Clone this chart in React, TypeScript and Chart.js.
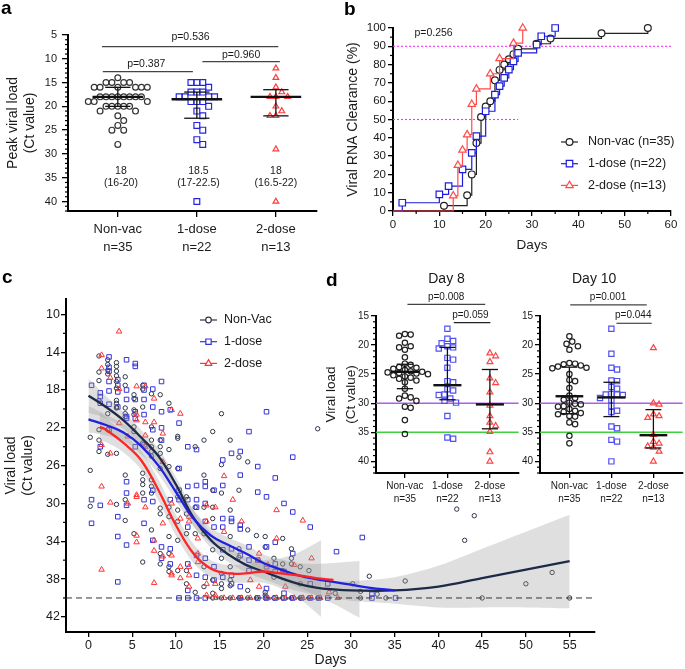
import React, { useEffect, useRef } from 'react';
import { Chart, registerables } from 'chart.js';

Chart.register(...registerables);

const FONT = "'Liberation Sans', Arial, Helvetica, sans-serif";
const INK = '#1a1a1a';
Chart.defaults.font.family = FONT;
Chart.defaults.color = INK;

// ================= Panel a : peak viral load =================
const groupNames = ['Non-vac', '1-dose', '2-dose'];
const groupCounts = ['n=35', 'n=22', 'n=13'];
const peakNonVac = [14, 15, 15, 15, 15, 16, 16, 16, 16, 16, 16, 18, 18, 18, 18, 18, 18, 18, 18, 19, 19, 19, 20, 20, 20, 20, 20, 21, 21, 22, 23, 24, 25, 25, 28];
const peakOneDose = [15, 15, 15, 16, 17, 17, 17, 18, 18, 18, 18, 19, 19, 19, 20, 21, 22, 24, 25, 27, 28, 40];
const peakTwoDose = [12, 14, 16, 17, 18, 18, 18, 20, 21, 22, 22, 29, 40];
const peakMedian = [18, 18.5, 18];
const peakQ1 = [16, 17, 16.5];
const peakQ3 = [20, 22.5, 22];
const peakMedianText = ['18', '18.5', '18'];
const peakRangeText = ['(16-20)', '(17-22.5)', '(16.5-22)'];
const peakPValues = ['p=0.536', 'p=0.387', 'p=0.960'];
const peakTicks = [5, 10, 15, 20, 25, 30, 35, 40];

// ================= Panel b : clearance curves =================
const kmDaysNonVac = [0, 11, 16, 17, 18, 19, 20, 21, 22, 23, 24, 25, 26, 27, 31, 34, 45, 55];
const kmPctNonVac = [0, 2.9, 8.6, 20, 37.1, 51.4, 57.1, 60, 71.4, 77.1, 80, 82.9, 85.7, 88.6, 91.4, 94.3, 97.1, 100];
const kmDaysOneDose = [0, 2, 10, 12, 15, 17, 18, 20, 22, 23, 24, 25, 26, 27, 31, 32, 35];
const kmPctOneDose = [0, 4.5, 9.1, 13.6, 22.7, 31.8, 40.9, 54.5, 63.6, 68.2, 72.7, 77.3, 81.8, 86.4, 90.9, 95.5, 100];
const kmDaysTwoDose = [0, 13, 14, 15, 16, 17, 18, 21, 23, 26, 28];
const kmPctTwoDose = [0, 8.3, 25, 33.3, 41.7, 58.3, 66.7, 75, 83.3, 91.7, 100];
const kmLegend = ['Non-vac (n=35)', '1-dose (n=22)', '2-dose (n=13)'];
const kmXTicks = [0, 10, 20, 30, 40, 50, 60];
const kmYTicks = [0, 10, 20, 30, 40, 50, 60, 70, 80, 90, 100];

// ================= Panel c : viral load over time =================
// Ct values per day (index = day since onset)
const ctNonVacByDay = [
  [23, 26.5, 30.3],
  [14.4, 16.1, 17, 19.1, 22.2, 23.3, 24.5],
  [14.8, 15.3, 15.9, 16.3, 20.5, 22.2, 24.8],
  [15.1, 15.5, 16, 16.5, 17.1, 17.8, 19.1, 19.4, 19.8, 19.9, 24.7, 30.1],
  [16.6, 17.5, 19.9, 20.5, 20.8, 27, 29.6, 31.8],
  [18.5, 18.9, 20.1, 20.6, 21.9, 22.4, 33.2],
  [17.5, 17.9, 19.8, 23.6, 26.8, 27.5, 28, 28.9, 36.2],
  [18.4, 21.9, 23.3, 24, 24.5, 25, 27.5, 28.2, 28.9, 32.8],
  [18.5, 23.3, 24, 24.7, 26.3, 30.5, 31.1, 35.3, 36.4],
  [19.4, 24.3, 26.1, 30.4, 31.4, 33.5, 35.3, 36.7, 37.2],
  [22.9, 23.1, 26.3, 29.3, 30.7, 31.9, 33.9, 37.1],
  [29.3, 31.1, 33.2, 37.1, 38.5],
  [24, 30.4, 33.2, 39.4],
  [23.3, 27, 30.4, 33.2, 36.7, 38.8],
  [22.4, 28.6, 30.4, 31.6, 34.9, 38.1, 39.5, 40],
  [20.5, 25.9, 28.9, 35.8, 37.4, 38.5, 39, 40],
  [23.3, 30.7, 33.5, 36.7, 38.1, 38.7, 40],
  [25.1, 28.6, 34.8, 35.7, 40],
  [25.6, 32.8, 39.2, 40],
  [33.4, 40],
  [33.5, 34.6, 39.4, 39.7, 40],
  [35.8, 37.8, 40],
  [33.7, 36.4, 37.1, 40],
  [34.8, 35.8, 36.4, 40],
  [36.7, 38.5, 40],
  [37.1, 40],
  [22.1, 40],
  [],
  [39.5],
];
const ctNonVacLate = [[30.2, 38.5], [31.1, 39.3], [31.1, 40], [32.1, 37.7], [33, 39.6], [34, 40], [36.2, 38.2], [42.1, 30.6], [43, 33.9], [44.1, 31.3], [45, 40], [50, 38.5], [53, 37.3], [55, 40]];
const ctOneDoseByDay = [
  [17.5, 29.6, 32.1],
  [18.3, 18.7, 19.4, 24, 30.2],
  [14.5, 15.6, 16, 17.1, 18.1, 19.5, 22.2],
  [16.9, 17.5, 18.2, 19.8, 31.4, 33.5, 38.3],
  [14.8, 18, 19, 20.8, 21, 27.7, 28.9, 30.2, 34.4],
  [15.2, 15.5, 19, 20.3, 21, 24],
  [17.5, 18, 19, 20.6, 23.8, 29.6, 32.1],
  [17.9, 19.8, 22.2, 28.6, 29.8, 33.9],
  [17.1, 20.3, 22, 23.3, 34.6, 35.8],
  [20.1, 29.6, 34.8, 36.4],
  [21.5, 26.3, 28.6, 29.6, 40],
  [24, 28.2, 29.6, 32.5, 36.4, 39.2, 40],
  [24.3, 28.1, 29.6, 30.4, 35.5, 37.6, 40],
  [27.7, 28.2, 30, 31.9, 35.8, 37.8, 40],
  [28.6, 32.5, 36.7, 38.1],
  [25.4, 28.1, 31.6, 32.5, 34.9, 37.8],
  [24.7, 31.6, 31.9, 34.8, 37.6, 38.5],
  [24.5, 27, 32.3, 32.7, 35.5, 38.8, 40],
  [22.4, 34.6, 36, 37.1],
  [26.1, 28.8, 36, 40],
  [20.3, 29.3, 34.6, 36.7, 39, 40],
  [27.3, 34.1, 36.4, 37.2, 40],
  [30, 37.2, 39.5, 40],
  [25.1, 30.9, 35.3, 40],
  [40],
  [32.5, 38.5, 40],
  [40],
  [38.5, 40],
  [35.1],
];
const ctOneDoseLate = [[31.3, 33.6], [32.4, 39.6], [32.4, 40], [35.1, 40]];
const ctTwoDoseByDay = [
  [],
  [14.3, 15.7, 23.8, 28.2, 37],
  [16.7, 24.7, 29.9],
  [11.8, 17.9, 21.5],
  [22.9, 30],
  [17.6, 20.6, 21.2, 29.1, 29.3, 33.4, 34.1],
  [17.6, 21.4, 22.8, 24, 30.4],
  [18.9, 21.4, 33.9, 35, 38.4],
  [22.6, 25.6, 32.1, 35.6],
  [20.1, 30, 35.5, 37.4, 37.6],
  [20.5, 31.6, 36.7, 37.9],
  [31.4, 31.9, 36.7, 37.6, 38.8],
  [33.7, 35.3, 36.2],
  [30.2, 31.9, 38.5, 39.7],
  [30.4, 38.5, 39.7, 40],
  [27.1, 33, 40],
  [29.6, 40],
  [31.9, 40],
  [38.1, 40],
  [35.3, 36, 38.8],
  [36.5, 40],
  [30.7, 33.7, 40],
  [38.8, 40],
  [36.5, 40],
  [31.8, 40],
  [35.8, 40],
  [40],
  [39.4],
  [40],
];
// fitted curves and 95% bands
const fitDaysNonVac = [0, 2, 4, 6, 8, 10, 12, 14, 16, 18, 20, 22, 24, 26, 28, 30, 35, 40, 45, 50, 55];
const fitNonVac = [18.6, 19.8, 21.2, 23.0, 25.0, 28.0, 31.5, 33.9, 35.4, 36.5, 37.2, 37.9, 38.5, 38.9, 39.1, 39.2, 39.2, 38.8, 37.9, 37.0, 36.1];
const bandNonVacUpper = [16.8, 18.6, 20.3, 22.2, 24.2, 27.2, 30.7, 33.1, 34.6, 35.7, 36.4, 37.1, 37.7, 38.1, 38.2, 38.2, 37.8, 36.6, 34.8, 33.0, 31.2];
const bandNonVacLower = [20.4, 21.0, 22.1, 23.8, 25.8, 28.8, 32.3, 34.7, 36.2, 37.3, 38.0, 38.7, 39.3, 39.7, 40.0, 40.3, 40.6, 41.0, 41.0, 41.0, 41.1];
const fitDaysOneDose = [0, 2, 4, 6, 8, 10, 12, 14, 16, 18, 20, 22, 24, 26, 28, 30, 32, 35];
const fitOneDose = [21.1, 21.7, 22.5, 23.9, 26.0, 28.8, 31.6, 33.4, 34.4, 35.3, 36.3, 37.0, 37.6, 38.0, 38.3, 38.6, 38.9, 39.2];
const bandDaysOneDose = [0, 2, 4, 6, 8, 10, 12, 14, 16, 18, 20, 22, 24, 26, 28, 31];
const bandOneDoseUpper = [19.7, 20.6, 21.6, 23.0, 25.1, 27.9, 30.7, 32.6, 33.6, 34.4, 35.4, 35.9, 36.3, 36.4, 36.3, 36.1];
const bandOneDoseLower = [22.5, 22.8, 23.4, 24.8, 26.9, 29.7, 32.5, 34.2, 35.2, 36.2, 37.2, 38.1, 38.9, 39.7, 40.6, 42.1];
const fitDaysTwoDose = [1.3, 2, 4, 6, 8, 10, 12, 14, 16, 18, 20, 22, 24, 26, 28];
const fitTwoDose = [21.9, 22.2, 23.6, 25.4, 28.6, 32.3, 35.3, 36.9, 37.4, 37.4, 37.2, 37.4, 37.6, 37.9, 38.1];
const bandDaysTwoDose = [1.3, 2, 4, 6, 8, 10, 12, 14, 16, 18, 20, 22, 24, 26.6];
const bandTwoDoseUpper = [20.4, 20.9, 22.6, 24.4, 27.5, 31.2, 34.3, 36.0, 36.5, 36.4, 36.0, 35.8, 35.2, 33.9];
const bandTwoDoseLower = [23.4, 23.5, 24.6, 26.4, 29.7, 33.4, 36.3, 37.8, 38.3, 38.4, 38.4, 39.0, 40.0, 42.0];
const cLegend = ['Non-Vac', '1-dose', '2-dose'];
const cXTicks = [0, 5, 10, 15, 20, 25, 30, 35, 40, 45, 50, 55];
const cYTicks = [10, 14, 18, 22, 26, 30, 34, 38, 42];
const detectionLimit = 40;

// ================= Panel d : Day 8 / Day 10 =================
const d8NonVac = [18.1, 18.2, 18.4, 19.6, 20.2, 20.4, 20.8, 22.1, 23.2, 23.4, 23.8, 23.9, 24.1, 24.3, 24.5, 24.6, 24.7, 24.8, 24.9, 25.0, 25.2, 25.4, 25.6, 25.8, 26.1, 26.4, 27.5, 28.7, 29.0, 29.2, 29.6, 30.6, 30.8, 32.9, 35.3];
const d8OneDose = [17.2, 18.9, 19.3, 19.7, 20.2, 20.4, 20.6, 22.2, 22.5, 23.9, 26.2, 26.4, 27.6, 27.8, 28.5, 28.6, 29.2, 29.6, 29.9, 32.2, 35.9, 36.1];
const d8TwoDose = [21.4, 21.9, 22.9, 25.7, 26.5, 28.1, 30.4, 32.2, 33.3, 33.9, 34.9, 38.4, 40.0];
const d8Median = [24.6, 26.9, 30.2];
const d8Q1 = [23.3, 20.4, 24.2];
const d8Q3 = [27.5, 29.4, 34.4];
const d8PValues = ['p=0.008', 'p=0.059'];
const d10NonVac = [18.5, 19.4, 19.8, 20.2, 20.8, 23.1, 23.2, 23.3, 23.5, 23.7, 23.9, 24.0, 25.0, 26.0, 26.2, 27.4, 28.7, 29.1, 29.4, 29.9, 30.1, 30.2, 30.5, 30.6, 31.0, 31.3, 31.5, 31.7, 31.9, 32.2, 32.3, 33.3, 33.6, 35.6, 36.9];
const d10OneDose = [17.2, 21.5, 23.9, 24.2, 26.1, 26.2, 27.2, 27.5, 28.4, 28.5, 28.5, 28.6, 29.1, 29.5, 30.5, 31.3, 31.5, 34.0, 34.3, 36.3, 36.6, 40.0];
const d10TwoDose = [20.5, 30.0, 30.2, 31.9, 32.2, 32.5, 35.4, 36.6, 36.9, 37.4, 37.6, 38.3, 40.0];
const d10Median = [28.8, 29.0, 35.5];
const d10Q1 = [23.8, 26.4, 31.1];
const d10Q3 = [31.8, 32.3, 37.7];
const d10PValues = ['p=0.001', 'p=0.044'];
const dTicks = [15, 20, 25, 30, 35, 40];
const dThresholds = [30, 35];

// ================= helpers =================
const STYLES = ['circle', 'rect', 'triangle'];

function drawMarker(ctx: any, style: string, x: number, y: number, r: number, color: string, lw = 1.2) {
  ctx.save();
  ctx.beginPath();
  if (style === 'circle') ctx.arc(x, y, r, 0, Math.PI * 2);
  else if (style === 'rect') {
    const s = r * Math.SQRT1_2;
    ctx.rect(x - s, y - s, 2 * s, 2 * s);
  } else {
    ctx.moveTo(x, y - r);
    ctx.lineTo(x + r * Math.sin((2 * Math.PI) / 3), y - r * Math.cos((2 * Math.PI) / 3));
    ctx.lineTo(x + r * Math.sin((4 * Math.PI) / 3), y - r * Math.cos((4 * Math.PI) / 3));
    ctx.closePath();
  }
  ctx.fillStyle = '#fff';
  ctx.fill();
  ctx.strokeStyle = color;
  ctx.lineWidth = lw;
  ctx.stroke();
  ctx.restore();
}

function swarm(vals: number[], pxY: number, pxX: number, diam: number): number[] {
  const idx = vals.map((_, i) => i).sort((a, b) => vals[a] - vals[b]);
  const placed: number[][] = [];
  const out = vals.map(() => 0);
  for (const i of idx) {
    const y = vals[i] * pxY;
    let chosen = 0;
    for (let k = 0; k < 80; k++) {
      const step = Math.ceil(k / 2) * diam * 0.5;
      const cand = k % 2 === 1 ? step : -step;
      if (placed.every(([px, py]) => (px - cand) ** 2 + (py - y) ** 2 >= diam * diam * 0.95)) {
        chosen = cand;
        break;
      }
    }
    placed.push([chosen, y]);
    out[i] = chosen / pxX;
  }
  return out;
}

function makeAnnot(lines: any[], texts: any[]) {
  return {
    id: 'annot',
    afterDatasetsDraw(chart: any) {
      const ctx = chart.ctx;
      const xs = chart.scales.x;
      const ys = chart.scales.y;
      ctx.save();
      for (const l of lines) {
        ctx.beginPath();
        ctx.strokeStyle = l.color || '#333';
        ctx.lineWidth = l.width || 1.2;
        ctx.setLineDash(l.dash || []);
        ctx.moveTo(xs.getPixelForValue(l.x1), ys.getPixelForValue(l.y1));
        ctx.lineTo(xs.getPixelForValue(l.x2), ys.getPixelForValue(l.y2 ?? l.y1));
        ctx.stroke();
      }
      ctx.setLineDash([]);
      for (const t of texts) {
        ctx.font = `${t.size || 10}px ${FONT}`;
        ctx.fillStyle = t.color || INK;
        ctx.textAlign = t.align || 'center';
        ctx.textBaseline = 'middle';
        ctx.fillText(t.text, xs.getPixelForValue(t.x), ys.getPixelForValue(t.y));
      }
      ctx.restore();
    },
  };
}

function makeMinorTicks(spec: any) {
  return {
    id: 'minorTicks',
    afterDraw(chart: any) {
      const ctx = chart.ctx;
      const area = chart.chartArea;
      ctx.save();
      ctx.strokeStyle = '#000';
      ctx.lineWidth = 1.2;
      for (const k of Object.keys(spec)) {
        const o = spec[k];
        const s = chart.scales[k];
        const start = Math.ceil(s.min / o.step - 1e-9) * o.step;
        for (let v = start; v <= s.max + 1e-9; v += o.step) {
          if (s.ticks.some((t: any) => Math.abs(t.value - v) < 1e-6)) continue;
          const p = s.getPixelForValue(v);
          ctx.beginPath();
          if (k === 'y') {
            ctx.moveTo(area.left - o.len, p);
            ctx.lineTo(area.left, p);
          } else {
            ctx.moveTo(p, area.bottom);
            ctx.lineTo(p, area.bottom + o.len);
          }
          ctx.stroke();
        }
      }
      ctx.restore();
    },
  };
}

function makeMedianBars(med: number[], q1: number[], q3: number[], hm: number, hw: number) {
  return {
    id: 'medianBars',
    afterDatasetsDraw(chart: any) {
      const ctx = chart.ctx;
      const xs = chart.scales.x;
      const ys = chart.scales.y;
      ctx.save();
      ctx.strokeStyle = '#111';
      med.forEach((m, g) => {
        const seg = (x1: number, y1: number, x2: number, y2: number, w: number) => {
          ctx.lineWidth = w;
          ctx.beginPath();
          ctx.moveTo(xs.getPixelForValue(x1), ys.getPixelForValue(y1));
          ctx.lineTo(xs.getPixelForValue(x2), ys.getPixelForValue(y2));
          ctx.stroke();
        };
        seg(g, q1[g], g, q3[g], 1.3);
        seg(g - hw, q1[g], g + hw, q1[g], 1.3);
        seg(g - hw, q3[g], g + hw, q3[g], 1.3);
        seg(g - hm, m, g + hm, m, 2.4);
      });
      ctx.restore();
    },
  };
}

function makeLegend(items: any[], x0: number, y0: number, rowH: number, len: number, gap: number, size: number) {
  return {
    id: 'legendBox',
    afterDraw(chart: any) {
      const ctx = chart.ctx;
      ctx.save();
      items.forEach((it, i) => {
        const y = y0 + i * rowH;
        ctx.strokeStyle = it.color;
        ctx.lineWidth = 1.2;
        ctx.beginPath();
        ctx.moveTo(x0, y);
        ctx.lineTo(x0 + len, y);
        ctx.stroke();
        drawMarker(ctx, it.style, x0 + len / 2, y, it.r, it.color);
        ctx.fillStyle = INK;
        ctx.font = `${size}px ${FONT}`;
        ctx.textAlign = 'left';
        ctx.textBaseline = 'middle';
        ctx.fillText(it.label, x0 + len + gap, y);
      });
      ctx.restore();
    },
  };
}

function axis(o: any) {
  const horizontal = o.pos === 'bottom';
  return {
    type: 'linear',
    position: o.pos,
    min: o.min,
    max: o.max,
    reverse: !!o.reverse,
    afterBuildTicks: (s: any) => {
      s.ticks = o.ticks.map((v: number) => ({ value: v }));
    },
    afterFit: (s: any) => {
      if (horizontal) s.height = o.size;
      else s.width = o.size;
    },
    ticks: {
      autoSkip: false,
      maxRotation: 0,
      minRotation: 0,
      padding: o.pad,
      color: INK,
      font: { size: o.font, lineHeight: o.lh || 1.2 },
      callback: o.cb || ((v: number) => String(v)),
    },
    grid: { display: true, drawOnChartArea: false, drawTicks: true, tickLength: o.tick, color: '#000', tickColor: '#000', tickWidth: 1.3, lineWidth: 1.3 },
    border: { display: true, color: '#000', width: 2 },
    title: o.title
      ? { display: true, text: o.title, color: INK, font: { size: o.tsize, lineHeight: o.tlh || 1.2 }, padding: { top: o.tpad || 0, bottom: o.tpadB || 0 } }
      : { display: false },
  };
}

function baseOptions(padding: any, scales: any) {
  return {
    responsive: false,
    animation: false,
    events: [],
    layout: { padding },
    plugins: { legend: { display: false }, tooltip: { enabled: false }, title: { display: false } },
    scales,
  };
}

const catLabel = (v: number) => [groupNames[v], groupCounts[v]];

// ================= chart configs =================
function configA() {
  const groups = [peakNonVac, peakOneDose, peakTwoDose];
  const colors = ['#333333', '#2424e0', '#ff3b3b'];
  const radii = [2.9, 4.1, 3.3];
  const datasets = groups.map((vals, g) => {
    const off = swarm(vals, 4.77, 79, 5.9);
    return {
      data: vals.map((v, i) => ({ x: g + off[i], y: v })),
      showLine: false,
      pointStyle: STYLES[g],
      pointRadius: radii[g],
      pointBorderColor: colors[g],
      pointBackgroundColor: 'rgba(0,0,0,0)',
      pointBorderWidth: 1.2,
      clip: 8,
    };
  });
  const lines = [
    { x1: -0.2, x2: 2.03, y1: 7.45, color: '#444' },
    { x1: -0.19, x2: 0.95, y1: 12.7, color: '#444' },
    { x1: 1.07, x2: 2.05, y1: 10.6, color: '#444' },
  ];
  const texts: any[] = [
    { x: 0.92, y: 5.45, text: peakPValues[0], size: 10.5 },
    { x: 0.36, y: 11.1, text: peakPValues[1], size: 10.5 },
    { x: 1.56, y: 9.2, text: peakPValues[2], size: 10.5 },
  ];
  [0.04, 1.02, 2.0].forEach((x, g) => {
    texts.push({ x, y: 33.6, text: peakMedianText[g], size: 10.5 });
    texts.push({ x, y: 36.1, text: peakRangeText[g], size: 10.5 });
  });
  return {
    type: 'line',
    data: { datasets },
    options: baseOptions(
      { top: 35, right: 18, bottom: 0, left: 0 },
      {
        x: axis({ pos: 'bottom', min: -0.63, max: 2.52, ticks: [0, 1, 2], size: 51, font: 13, lh: 1.35, pad: 4, tick: 6, cb: catLabel }),
        y: axis({ pos: 'left', min: 5, max: 42, reverse: true, ticks: peakTicks, size: 68, font: 11, pad: 5, tick: 6, title: ['Peak viral load', '(Ct value)'], tsize: 14, tlh: 1.25, tpad: 4 }),
      }
    ),
    plugins: [makeMinorTicks({ y: { step: 1, len: 3 } }), makeMedianBars(peakMedian, peakQ1, peakQ3, 0.32, 0.16), makeAnnot(lines, texts)],
  };
}

function configB() {
  const series = [
    { d: kmDaysNonVac, p: kmPctNonVac, color: '#222222', style: 'circle', r: 3.4, order: 3 },
    { d: kmDaysOneDose, p: kmPctOneDose, color: '#1c1cdc', style: 'rect', r: 4.6, order: 2 },
    { d: kmDaysTwoDose, p: kmPctTwoDose, color: '#ff4a4a', style: 'triangle', r: 4.3, order: 1 },
  ];
  const datasets: any[] = series.map((s) => ({
    data: s.d.map((d, i) => ({ x: d, y: s.p[i] })),
    stepped: true,
    borderColor: s.color,
    borderWidth: 1.2,
    pointStyle: s.style,
    pointRadius: (c: any) => (c.dataIndex === 0 ? 0 : s.r),
    pointBorderColor: s.color,
    pointBackgroundColor: '#ffffff',
    pointBorderWidth: 1.2,
    order: s.order,
    fill: false,
    clip: 10,
  }));
  datasets.push({ data: [{ x: 0, y: 90 }, { x: 60, y: 90 }], borderColor: '#ff2cff', borderWidth: 1.1, borderDash: [2, 2], pointRadius: 0, order: 10, fill: false });
  datasets.push({ data: [{ x: 0, y: 50 }, { x: 27, y: 50 }], borderColor: '#ff2cff', borderWidth: 1.1, borderDash: [2, 2], pointRadius: 0, order: 10, fill: false });
  const legendItems = series.map((s, i) => ({ label: kmLegend[i], color: s.color, style: s.style, r: s.r }));
  return {
    type: 'line',
    data: { datasets },
    options: baseOptions(
      { top: 28, right: 14, bottom: 0, left: 0 },
      {
        x: axis({ pos: 'bottom', min: 0, max: 60, ticks: kmXTicks, size: 51, font: 11.5, pad: 2, tick: 5, title: 'Days', tsize: 13.5, tpadB: 9 }),
        y: axis({ pos: 'left', min: 0, max: 100, ticks: kmYTicks, size: 53, font: 11.5, pad: 2, tick: 5, title: 'Viral RNA Clearance (%)', tsize: 14, tpad: 5 }),
      }
    ),
    plugins: [
      makeMinorTicks({ x: { step: 5, len: 3 }, y: { step: 5, len: 3 } }),
      makeAnnot([], [{ x: 8.75, y: 97, text: 'p=0.256', size: 10.5 }]),
      makeLegend(legendItems, 221, 142, 21.7, 17, 10, 12.5),
    ],
  };
}

function configC() {
  const pts = (byDay: number[][], late: number[][], off: number) => {
    const out: any[] = [];
    byDay.forEach((cts, d) => cts.forEach((ct) => out.push({ x: d + off, y: ct })));
    late.forEach(([d, ct]) => out.push({ x: d, y: ct }));
    return out;
  };
  const curve = (days: number[], vals: number[]) => days.map((d, i) => ({ x: d, y: vals[i] }));
  const pointSets = [
    { data: pts(ctNonVacByDay, ctNonVacLate, 0.2), color: '#2e3546', style: 'circle', r: 2.2, order: 12 },
    { data: pts(ctOneDoseByDay, ctOneDoseLate, 0.35), color: '#3434d6', style: 'rect', r: 3.2, order: 11 },
    { data: pts(ctTwoDoseByDay, [], 0.5), color: '#ff3434', style: 'triangle', r: 3.2, order: 10 },
  ];
  const datasets: any[] = pointSets.map((s) => ({
    data: s.data,
    showLine: false,
    pointStyle: s.style,
    pointRadius: s.r,
    pointBorderColor: s.color,
    pointBackgroundColor: 'rgba(0,0,0,0)',
    pointBorderWidth: 1,
    order: s.order,
  }));
  const bandFill = 'rgba(150,150,150,0.3)';
  const bands = [
    [fitDaysNonVac, bandNonVacUpper, bandNonVacLower],
    [bandDaysOneDose, bandOneDoseUpper, bandOneDoseLower],
    [bandDaysTwoDose, bandTwoDoseUpper, bandTwoDoseLower],
  ];
  bands.forEach(([days, up, lo]) => {
    datasets.push({ data: curve(days, up), borderColor: 'rgba(0,0,0,0)', borderWidth: 1, pointRadius: 0, tension: 0.3, fill: false, order: 6 });
    datasets.push({ data: curve(days, lo), borderColor: 'rgba(0,0,0,0)', borderWidth: 1, pointRadius: 0, tension: 0.3, fill: '-1', backgroundColor: bandFill, order: 5 });
  });
  datasets.push({
    data: [{ x: -2.57, y: detectionLimit }, { x: 57.9, y: detectionLimit }],
    borderColor: '#333', borderWidth: 1, borderDash: [6, 4], pointRadius: 0, fill: false, order: 4,
  });
  const fits = [
    { d: fitDaysNonVac, v: fitNonVac, color: '#1d2a48', order: 3 },
    { d: fitDaysOneDose, v: fitOneDose, color: '#2020e0', order: 2 },
    { d: fitDaysTwoDose, v: fitTwoDose, color: '#ff2424', order: 1 },
  ];
  fits.forEach((f) => datasets.push({ data: curve(f.d, f.v), borderColor: f.color, borderWidth: 2.3, pointRadius: 0, tension: 0.4, fill: false, order: f.order }));
  const legendItems = pointSets.map((s, i) => ({ label: cLegend[i], color: s.color, style: s.style, r: s.r + 0.6 }));
  return {
    type: 'line',
    data: { datasets },
    options: baseOptions(
      { top: 37, right: 3, bottom: 0, left: 0 },
      {
        x: axis({ pos: 'bottom', min: -2.57, max: 57.9, ticks: cXTicks, size: 37, font: 12.5, pad: 1, tick: 5, title: 'Days', tsize: 14, tpadB: 0 }),
        y: axis({ pos: 'left', min: 8.37, max: 43.6, reverse: true, ticks: cYTicks, size: 66, font: 12.5, pad: 1, tick: 5, title: ['Viral load', '(Ct value)'], tsize: 14, tlh: 1.22, tpad: 2.5 }),
      }
    ),
    plugins: [makeMinorTicks({ y: { step: 2, len: 3 } }), makeLegend(legendItems, 200, 58, 21.7, 17, 7, 12.5)],
  };
}

function configD(day: number) {
  const is8 = day === 8;
  const groups = is8 ? [d8NonVac, d8OneDose, d8TwoDose] : [d10NonVac, d10OneDose, d10TwoDose];
  const med = is8 ? d8Median : d10Median;
  const q1 = is8 ? d8Q1 : d10Q1;
  const q3 = is8 ? d8Q3 : d10Q3;
  const pv = is8 ? d8PValues : d10PValues;
  const colors = ['#222222', '#5050f0', '#ff4444'];
  const radii = [2.7, 3.7, 3.4];
  const datasets: any[] = groups.map((vals, g) => {
    const off = swarm(vals, 5.83, 42.8, 5.8);
    return {
      data: vals.map((v, i) => ({ x: g + off[i], y: v })),
      showLine: false,
      pointStyle: STYLES[g],
      pointRadius: radii[g],
      pointBorderColor: colors[g],
      pointBackgroundColor: 'rgba(0,0,0,0)',
      pointBorderWidth: 1.2,
      order: 5 - g,
      clip: 8,
    };
  });
  const xmin = is8 ? -0.68 : -0.7;
  const xmax = is8 ? 2.68 : 2.7;
  const lineColors = ['#b25ee6', '#3fcf3f'];
  dThresholds.forEach((t, i) =>
    datasets.push({ data: [{ x: xmin, y: t }, { x: xmax, y: t }], borderColor: lineColors[i], borderWidth: 1.6, pointRadius: 0, fill: false, order: 10 })
  );
  const lines = is8
    ? [{ x1: 0.06, x2: 1.89, y1: 13.0, color: '#444' }, { x1: 1.15, x2: 2.01, y1: 16.15, color: '#222' }]
    : [{ x1: 0.02, x2: 1.84, y1: 13.1, color: '#444' }, { x1: 1.12, x2: 1.96, y1: 16.25, color: '#222' }];
  const texts = is8
    ? [
        { x: 0.98, y: 8.7, text: 'Day 8', size: 14 },
        { x: 0.97, y: 11.7, text: pv[0], size: 10 },
        { x: 1.54, y: 14.8, text: pv[1], size: 10 },
      ]
    : [
        { x: 0.59, y: 8.7, text: 'Day 10', size: 14 },
        { x: 0.92, y: 11.7, text: pv[0], size: 10 },
        { x: 1.52, y: 14.95, text: pv[1], size: 10 },
      ];
  return {
    type: 'line',
    data: { datasets },
    options: baseOptions(
      { top: 54, right: is8 ? 4 : 3, bottom: 0, left: 0 },
      {
        x: axis({ pos: 'bottom', min: xmin, max: xmax, ticks: [0, 1, 2], size: 47, font: 10, lh: 1.25, pad: 2, tick: 5, cb: catLabel }),
        y: is8
          ? axis({ pos: 'left', min: 15, max: 42, reverse: true, ticks: dTicks, size: 58, font: 10, pad: 2, tick: 5, title: ['Viral load', '(Ct value)'], tsize: 13.5, tlh: 1.48, tpad: 3 })
          : axis({ pos: 'left', min: 15, max: 42, reverse: true, ticks: dTicks, size: 26, font: 10, pad: 2, tick: 5 }),
      }
    ),
    plugins: [makeMinorTicks({ y: { step: 1, len: 3 } }), makeMedianBars(med, q1, q3, 0.33, 0.19), makeAnnot(lines, texts)],
  };
}

// ================= components =================
function ChartBox({ box, make }: { box: number[]; make: () => any }) {
  const ref = useRef<HTMLCanvasElement>(null);
  useEffect(() => {
    const chart = new Chart(ref.current as HTMLCanvasElement, make());
    return () => chart.destroy();
  }, []);
  const [l, t, w, h] = box;
  return <canvas ref={ref} width={w} height={h} style={{ position: 'absolute', left: l, top: t, width: w, height: h }} />;
}

function Letter({ ch, left, baseline }: { ch: string; left: number; baseline: number }) {
  return (
    <div style={{ position: 'absolute', left, top: baseline - 16, fontFamily: FONT, fontWeight: 'bold', fontSize: 19, lineHeight: '19px', color: '#000' }}>{ch}</div>
  );
}

export default function App() {
  return (
    <div style={{ position: 'absolute', left: 0, top: 0, width: 685, height: 669, overflow: 'hidden', background: '#fff' }}>
      <ChartBox box={[0, 0, 335, 262]} make={configA} />
      <ChartBox box={[340, 0, 345, 262]} make={configB} />
      <ChartBox box={[0, 262, 600, 407]} make={configC} />
      <ChartBox box={[318, 262, 206, 258]} make={() => configD(8)} />
      <ChartBox box={[514, 262, 174, 258]} make={() => configD(10)} />
      <Letter ch="a" left={1} baseline={13.5} />
      <Letter ch="b" left={344} baseline={15} />
      <Letter ch="c" left={2} baseline={283} />
      <Letter ch="d" left={326} baseline={286} />
    </div>
  );
}
